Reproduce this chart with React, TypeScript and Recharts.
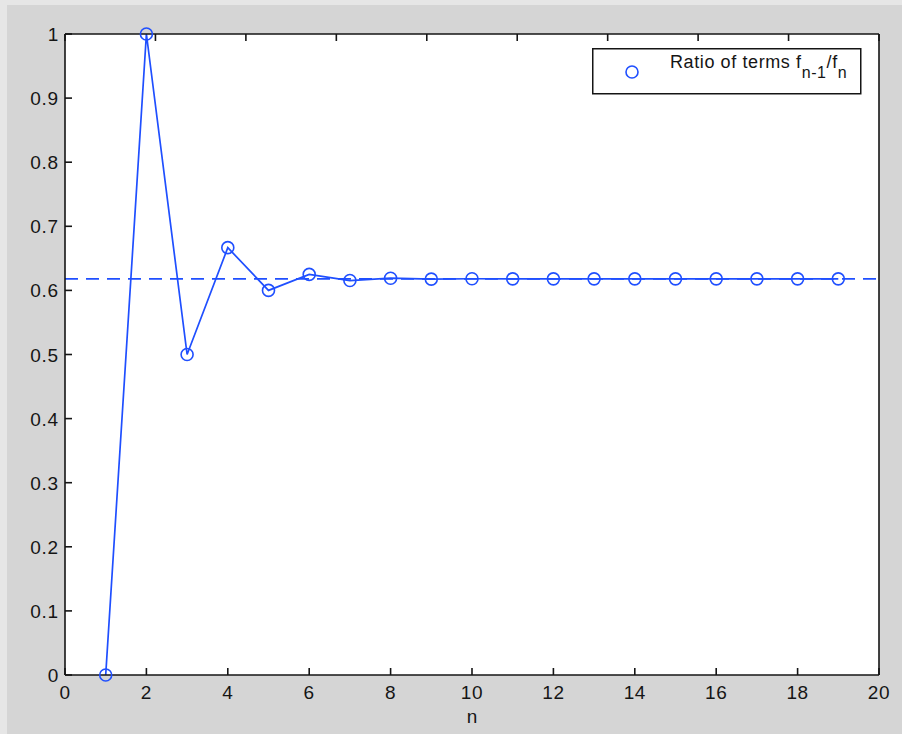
import React from 'react';
import { ComposedChart, Line, XAxis, YAxis, ReferenceLine, Legend } from 'recharts';

const nValues = [1, 2, 3, 4, 5, 6, 7, 8, 9, 10, 11, 12, 13, 14, 15, 16, 17, 18, 19];
const ratioValues = [0, 1, 0.5, 0.6667, 0.6, 0.625, 0.6154, 0.619, 0.6176, 0.6182, 0.618, 0.618, 0.618, 0.618, 0.618, 0.618, 0.618, 0.618, 0.618];
const limitValue = 0.618;
const xTicks = [0, 2, 4, 6, 8, 10, 12, 14, 16, 18, 20];
const yTicks = [0, 0.1, 0.2, 0.3, 0.4, 0.5, 0.6, 0.7, 0.8, 0.9, 1];
const yTickLabels = ['0', '0.1', '0.2', '0.3', '0.4', '0.5', '0.6', '0.7', '0.8', '0.9', '1'];
const xLabel = 'n';
const legendMain = 'Ratio of terms f';
const legendSub1 = 'n-1';
const legendMid = '/f';
const legendSub2 = 'n';

const data = nValues.map((n, i) => ({ n, ratio: ratioValues[i] }));

const BLUE = '#1f4fff';
const FONT = '"Liberation Sans", Arial, Helvetica, sans-serif';
const INK = '#151515';

const BottomTick = (props: any) => {
  const { payload } = props;
  const cx = payload.coordinate;
  return (
    <text x={cx} y={props.y} textAnchor="middle" fontSize={19} letterSpacing={0.6} fontFamily={FONT} fill={INK}>
      {String(payload.value)}
    </text>
  );
};

const LeftTick = (props: any) => {
  const { payload } = props;
  const idx = yTicks.findIndex((t) => Math.abs(t - payload.value) < 1e-9);
  const label = idx >= 0 ? yTickLabels[idx] : String(payload.value);
  return (
    <text x={props.x} y={payload.coordinate + 7} textAnchor="end" fontSize={19} letterSpacing={0.8} fontFamily={FONT} fill={INK}>
      {label}
    </text>
  );
};

const EmptyTick = () => <g />;

const AxisLabel = (props: any) => {
  const vb = props.viewBox || {};
  return (
    <text x={vb.x + vb.width / 2} y={vb.y + 48} textAnchor="middle" fontSize={19} fontFamily={FONT} fill={INK}>
      {xLabel}
    </text>
  );
};

const LegendBox = () => (
  <svg width={270} height={47} style={{ display: 'block' }}>
    <rect x={0.75} y={0.75} width={268} height={45} fill="#fff" stroke={INK} strokeWidth={1.5} />
    <circle cx={40} cy={24} r={6} fill="none" stroke={BLUE} strokeWidth={1.6} />
    <text x={78} y={20} fontSize={18} letterSpacing={0.6} fontFamily={FONT} fill={INK}>
      {legendMain}
      <tspan dy={10} fontSize={16}>{legendSub1}</tspan>
      <tspan dy={-10} fontSize={18}>{legendMid}</tspan>
      <tspan dy={10} fontSize={16}>{legendSub2}</tspan>
    </text>
  </svg>
);

export default function App() {
  return (
    <div style={{ position: 'absolute', left: 0, top: 0, width: 902, height: 734, background: '#d5d5d5', overflow: 'hidden' }}>
      <div style={{ position: 'absolute', left: 0, top: 0, width: 902, height: 5, background: '#e6e6e6' }} />
      <div style={{ position: 'absolute', left: 0, top: 0, width: 7, height: 734, background: '#e6e6e6' }} />
      <div style={{ position: 'absolute', left: 65, top: 34, width: 814, height: 641, background: '#fff' }} />
      <div style={{ position: 'absolute', left: 0, top: 0 }}>
        <ComposedChart width={902} height={734} data={data} margin={{ top: 33, right: 22, bottom: 19, left: 15 }}>
          <XAxis
            xAxisId="bottom"
            dataKey="n"
            type="number"
            domain={[0, 20]}
            ticks={xTicks}
            orientation="bottom"
            height={40}
            tickSize={-7}
            tickMargin={31}
            tick={BottomTick}
            stroke={INK}
            strokeWidth={1.6}
            interval={0}
            label={AxisLabel}
          />
          <XAxis
            xAxisId="top"
            type="number"
            domain={[0, 20]}
            ticks={xTicks}
            orientation="top"
            height={1}
            tickSize={-7}
            tick={EmptyTick}
            stroke={INK}
            strokeWidth={1.6}
            interval={0}
          />
          <YAxis
            yAxisId="left"
            type="number"
            domain={[0, 1]}
            ticks={yTicks}
            orientation="left"
            width={50}
            tickSize={-7}
            tickMargin={13}
            tick={LeftTick}
            stroke={INK}
            strokeWidth={1.6}
            interval={0}
          />
          <YAxis
            yAxisId="right"
            type="number"
            domain={[0, 1]}
            ticks={yTicks}
            orientation="right"
            width={1}
            tickSize={-7}
            tick={EmptyTick}
            stroke={INK}
            strokeWidth={1.6}
            interval={0}
          />
          <ReferenceLine
            xAxisId="bottom"
            yAxisId="left"
            y={limitValue}
            stroke={BLUE}
            strokeWidth={1.7}
            strokeDasharray="13 8"
          />
          <Line
            xAxisId="bottom"
            yAxisId="left"
            dataKey="ratio"
            stroke={BLUE}
            strokeWidth={1.7}
            dot={{ r: 6, fill: 'none', stroke: BLUE, strokeWidth: 1.6 }}
            activeDot={false}
            isAnimationActive={false}
            type="linear"
          />
          <Legend
            layout="vertical"
            align="center"
            verticalAlign="middle"
            content={LegendBox}
            wrapperStyle={{ position: 'absolute', left: 592, top: 48, width: 270, height: 47 }}
          />
        </ComposedChart>
      </div>
    </div>
  );
}
